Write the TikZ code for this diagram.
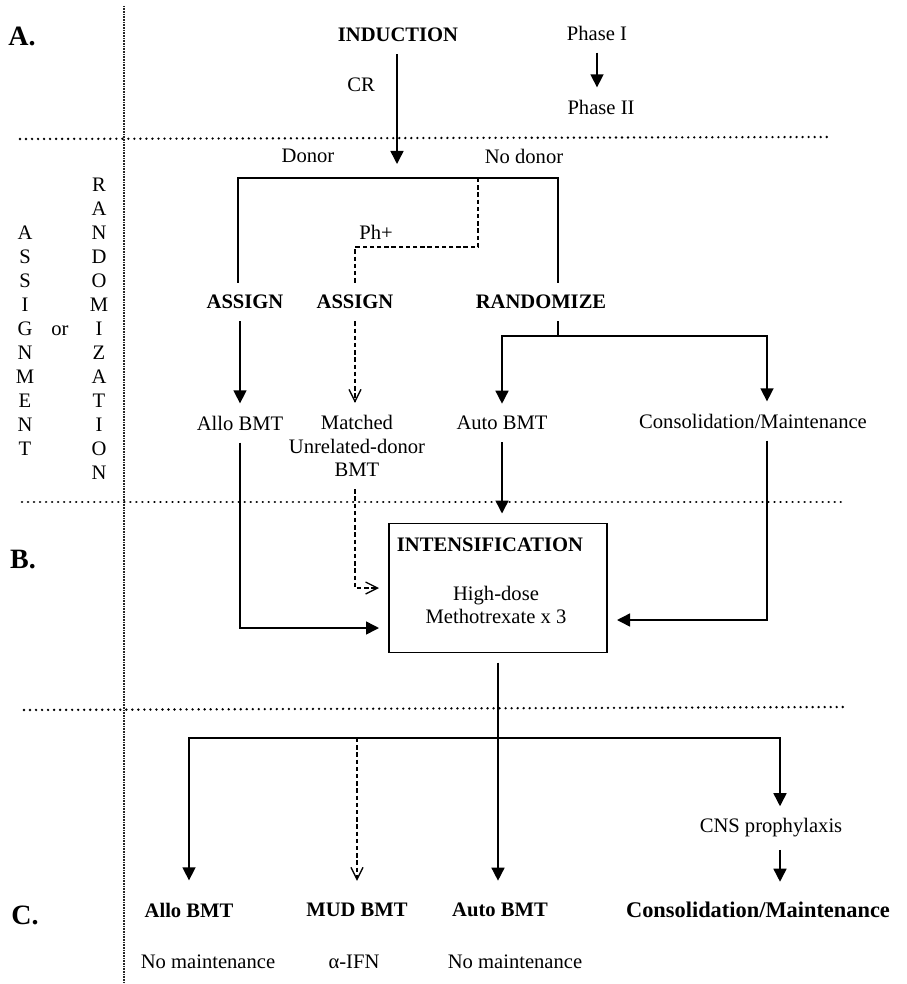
\documentclass[tikz,border=0pt]{standalone}
\usepackage{fontspec}
\setmainfont{Liberation Serif}
\usetikzlibrary{arrows.meta}
\tikzset{
  lbl/.style={inner xsep=1pt, inner ysep=6pt, font=\fontsize{10.3}{11.8}\selectfont},
  blbl/.style={lbl, font=\fontsize{10.3}{11.8}\selectfont\bfseries},
  sec/.style={inner sep=1pt, font=\fontsize{14}{16}\selectfont\bfseries},
  line/.style={line width=0.75pt},
  arr/.style={line, -{Triangle[width=6.5pt,length=6.5pt]}},
  dline/.style={line width=0.65pt, dash pattern=on 2.2pt off 1.4pt},
  darr/.style={dline, -{Straight Barb[width=6pt,length=6pt]}},
  sep/.style={line width=1.3pt, dash pattern=on 0.01pt off 3pt, line cap=round},
  vsep/.style={line width=0.6pt, black!85, dash pattern=on 0.4pt off 0.4pt},
  stagebox/.style={draw, line width=0.75pt, minimum width=109pt, minimum height=64.5pt, outer sep=5pt}
}

\begin{document}
\begin{tikzpicture}[x=0.5pt,y=-0.5pt]
  \useasboundingbox (0,0) rectangle (906,984);

  % separators
  \draw[vsep] (124,6) -- (124,984);
  \draw[sep] (20,139) -- (829,137);
  \draw[sep] (22,502) -- (843,502);
  \draw[sep] (24,710) -- (843,707);

  % section letters
  \node[sec] (secA) at (22,36) {A.};
  \node[sec] (secB) at (23,560) {B.};
  \node[sec] (secC) at (25,915) {C.};

  % assignment or randomization, written downwards
  \foreach \ch [count=\i from 0] in {A,S,S,I,G,N,M,E,N,T}
    \node[lbl, inner ysep=0pt] (asg\i) at (25,233+24*\i) {\ch};
  \foreach \ch [count=\i from 0] in {R,A,N,D,O,M,I,Z,A,T,I,O,N}
    \node[lbl, inner ysep=0pt] (rnd\i) at (99,185+24*\i) {\ch};
  \node[lbl, inner ysep=0pt] (orword) at (60,331) {or};

  % A. induction
  \node[blbl] (induct) at (398,35) {INDUCTION};
  \node[lbl] (cr) at (361,85) {CR};
  \node[lbl] (ph1) at (597,33) {Phase I};
  \node[lbl] (ph2) at (601,107) {Phase II};
  \coordinate (crtip) at (397,164);

  \node[lbl] (donor) at (308,156) {Donor};
  \node[lbl] (nodonor) at (524,156) {No donor};
  \coordinate (dl) at (238,178);
  \coordinate (dm) at (478,178);
  \coordinate (dr) at (558,178);
  \coordinate (phk) at (478,247);

  \node[blbl] (assign1) at (245,302) {ASSIGN};
  \node[blbl] (assign2) at (355,302) {ASSIGN};
  \node[blbl] (rand) at (541,302) {RANDOMIZE};
  \node[lbl, inner ysep=0pt] (ph) at (376,232) {Ph+};
  \coordinate (rsplit) at (558,336);
  \coordinate (rc) at (767,336);

  \node[lbl] (allo) at (240,423) {Allo BMT};
  \node[lbl, align=center] (mud) at (357,446) {Matched\\Unrelated-donor\\BMT};
  \node[lbl] (auto) at (502,423) {Auto BMT};
  \node[lbl] (cons) at (753,421) {Consolidation/Maintenance};

  \draw[arr] (induct.south -| crtip) -- (crtip);
  \draw[arr] (ph1.south) -- (ph1.south |- ph2.north);
  \draw[line] (assign1.north -| dl) |- (dr) -- (rand.north -| dr);
  \draw[dline] (dm) -- (phk) -| (assign2.north);
  \draw[arr] (assign1.south -| allo) -- (allo.north);
  \draw[darr] (assign2.south) -- (assign2.south |- mud.north);
  \draw[line] (rand.south -| rsplit) -- (rsplit);
  \draw[arr] (rsplit) -| (auto.north);
  \draw[arr] (rsplit) -- (rc) -- (rc |- cons.north);

  % B. intensification
  \node[stagebox] (intens) at (498,588) {};
  \node[blbl, inner ysep=0pt] (intitle) at (490,545) {INTENSIFICATION};
  \node[lbl, inner ysep=0pt, align=center] (hdmtx) at (496,605) {High-dose\\Methotrexate x 3};

  \draw[arr] (allo.south) |- ([yshift=-20pt]intens.west);
  \draw[darr] (mud.south -| assign2) |- (intens.west);
  \draw[arr] (auto.south) -- (auto.south |- intens.north);
  \draw[arr] (cons.south -| rc) |- ([yshift=-16pt]intens.east);

  % C. post-intensification
  \node[blbl] (ballo) at (189,910) {Allo BMT};
  \node[blbl] (bmud) at (357,910) {MUD BMT};
  \node[blbl] (bauto) at (500,910) {Auto BMT};
  \node[blbl, font=\fontsize{11.2}{13}\selectfont\bfseries] (bcons) at (758,910) {Consolidation/Maintenance};
  \node[lbl] (cns) at (771,828) {CNS prophylaxis};
  \node[lbl] (nomain1) at (208,962) {No maintenance};
  \node[lbl] (ifn) at (354,962) {α-IFN};
  \node[lbl] (nomain2) at (515,962) {No maintenance};
  \coordinate (bj) at (498,738);
  \coordinate (br) at (780,738);

  \draw[arr, shorten >=5pt] (intens.south) -- (intens.south |- bauto.north);
  \draw[arr, shorten >=5pt] (bj) -| (ballo.north);
  \draw[darr, shorten >=5pt] (bmud.north |- bj) -- (bmud.north);
  \draw[arr] (bj) -- (br) -- (br |- cns.north);
  \draw[arr, shorten >=4pt] (cns.south -| br) -- (br |- bcons.north);
\end{tikzpicture}
\end{document}
